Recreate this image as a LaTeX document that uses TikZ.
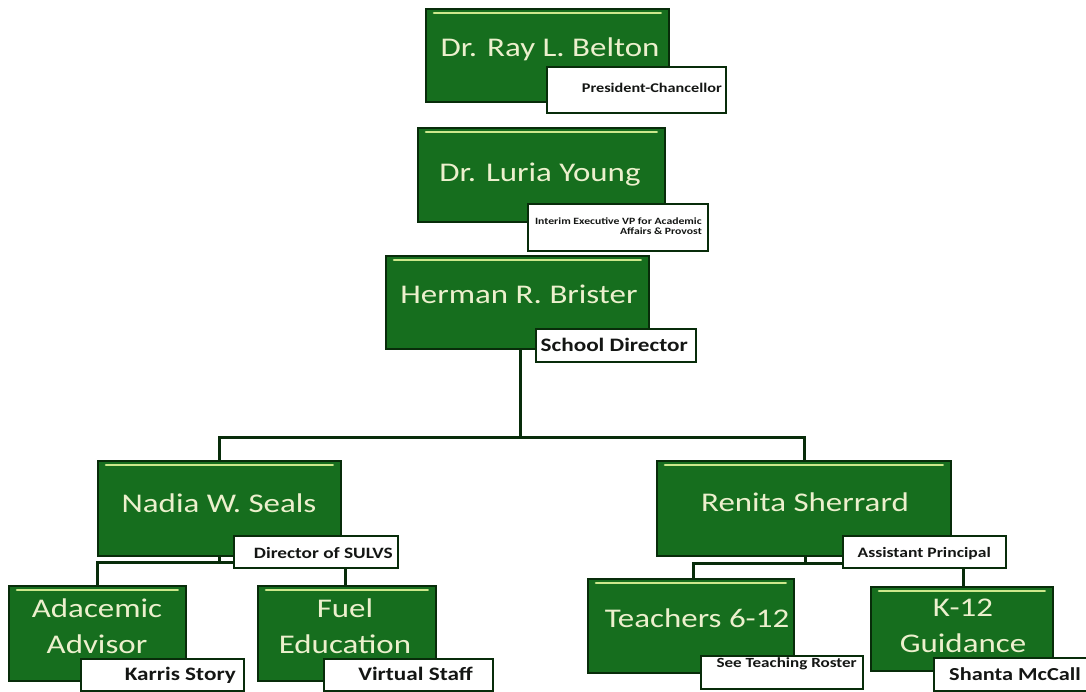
\documentclass[tikz,border=0pt]{standalone}
\usepackage{fontspec}
\newfontfamily\nmfont{Carlito}[FakeStretch=1.22]
\newfontfamily\lbfont{Carlito}[FakeStretch=1.22]
\definecolor{gfill}{RGB}{22,110,30}
\definecolor{gedge}{RGB}{8,44,10}
\definecolor{ghl}{RGB}{205,232,140}
\definecolor{ntext}{RGB}{236,240,205}
\definecolor{ltext}{RGB}{20,22,20}
\tikzset{
  gbox/.style={draw=gedge, line width=1.8pt, fill=gfill, inner sep=0pt, anchor=north west},
  lbox/.style={draw=gedge, line width=1.8pt, fill=white, inner sep=0pt, anchor=north west},
  hl/.style={draw=ghl, line width=2.6pt, line cap=round},
  conn/.style={draw=gedge, line width=3pt},
  nm/.style={font=\nmfont\fontsize{27}{36}\selectfont, text=ntext, align=center, inner sep=0pt},
  lb/.style={font=\lbfont\bfseries\fontsize{#1}{#1}\selectfont, text=ltext, inner sep=0pt},
  lb/.default=19
}
\begin{document}
\begin{tikzpicture}[x=1pt,y=-1pt]
\useasboundingbox (0,0) rectangle (1086,692);
\clip (0,0) rectangle (1086,692);
% connector coordinates
\coordinate (brdown) at (520,348);
\coordinate (bar) at (520,437);
\coordinate (nadtop) at (219,460);
\coordinate (rentop) at (804,460);
\coordinate (nadbot) at (219,555);
\coordinate (nadbar) at (219,562);
\coordinate (adtop) at (97,585);
\coordinate (futop) at (345,585);
\coordinate (renbot) at (805,555);
\coordinate (renbar) at (805,563);
\coordinate (tetop) at (693,578);
\coordinate (k12top) at (963,586);
% connectors
\draw[conn] (brdown) -- (bar);
\draw[conn] (nadtop) |- (bar) -| (rentop);
\draw[conn] (nadbot) -- (nadbar);
\draw[conn] (adtop) |- (nadbar) -| (futop);
\draw[conn] (renbot) -- (renbar);
\draw[conn] (tetop) |- (renbar) -| (k12top);
% green boxes
\node[gbox, minimum width=243, minimum height=93] (belton) at (425,8) {};
\node[gbox, minimum width=247, minimum height=94] (young) at (417,127) {};
\node[gbox, minimum width=263, minimum height=93] (brister) at (385,255) {};
\node[gbox, minimum width=243, minimum height=95] (nadia) at (97,460) {};
\node[gbox, minimum width=294, minimum height=95] (renita) at (656,460) {};
\node[gbox, minimum width=177, minimum height=95] (adac) at (8,585) {};
\node[gbox, minimum width=178, minimum height=95] (fuel) at (257,585) {};
\node[gbox, minimum width=206, minimum height=94] (teach) at (587,578) {};
\node[gbox, minimum width=182, minimum height=84] (k12) at (870,586) {};
% highlights
\foreach \b in {belton,young,brister,nadia,renita,adac,fuel,teach,k12}{
  \draw[hl] ([xshift=9pt,yshift=-5pt]\b.north west) -- ([xshift=-9pt,yshift=-5pt]\b.north east);
}
% names
\node[nm, anchor=base] (beltont) at (550,57) {Dr. Ray L. Belton};
\node[nm, anchor=base] (youngt) at (540,182) {Dr. Luria Young};
\node[nm, anchor=base] (bristert) at (519,304) {Herman R. Brister};
\node[nm, anchor=base] (nadiat) at (219,512) {Nadia W. Seals};
\node[nm, anchor=base] (renitat) at (805,511) {Renita Sherrard};
\node[nm] (adact) at (97,626) {Adacemic\\Advisor};
\node[nm] (fuelt) at (345,626) {Fuel\\Education};
\node[nm, anchor=base] (teacht) at (697,627) {Teachers 6-12};
\node[nm] (k12t) at (963,626) {K-12\\Guidance};
% label boxes
\node[lbox, minimum width=179, minimum height=46] (beltonl) at (546,66) {};
\node[lbox, minimum width=180, minimum height=47] (youngl) at (527,203) {};
\node[lbox, minimum width=160, minimum height=33] (bristerl) at (535,328) {};
\node[lbox, minimum width=164, minimum height=32] (nadial) at (233,535) {};
\node[lbox, minimum width=163, minimum height=32] (renital) at (842,535) {};
\node[lbox, minimum width=163, minimum height=32] (adacl) at (80,658) {};
\node[lbox, minimum width=169, minimum height=32] (fuell) at (323,658) {};
\node[lbox, minimum width=162, minimum height=33] (teachl) at (700,655) {};
\node[lbox, minimum width=180, minimum height=33] (k12l) at (933,657) {};
% label texts
\node[lb=13.3, anchor=base east] (beltonlt) at (722,93) {President-Chancellor};
\node[lb=9.6, align=right, anchor=east, font=\lbfont\bfseries\fontsize{9.6}{10.5}\selectfont] (younglt) at (702,226) {Interim Executive VP for Academic\\Affairs \& Provost};
\node[lb=19, anchor=base east] (bristerlt) at (688,352) {School Director};
\node[lb=15.8, anchor=base east] (nadialt) at (393,558) {Director of SULVS};
\node[lb=14.4, anchor=base east] (renitalt) at (991,557) {Assistant Principal};
\node[lb=19, anchor=base east] (adaclt) at (236,680) {Karris Story};
\node[lb=19, anchor=base east] (fuellt) at (473,680) {Virtual Staff};
\node[lb=14, anchor=base east] (teachlt) at (857,667) {See Teaching Roster};
\node[lb=18.3, anchor=base west] (k12lt) at (949,680) {Shanta McCall};
\end{tikzpicture}
\end{document}
